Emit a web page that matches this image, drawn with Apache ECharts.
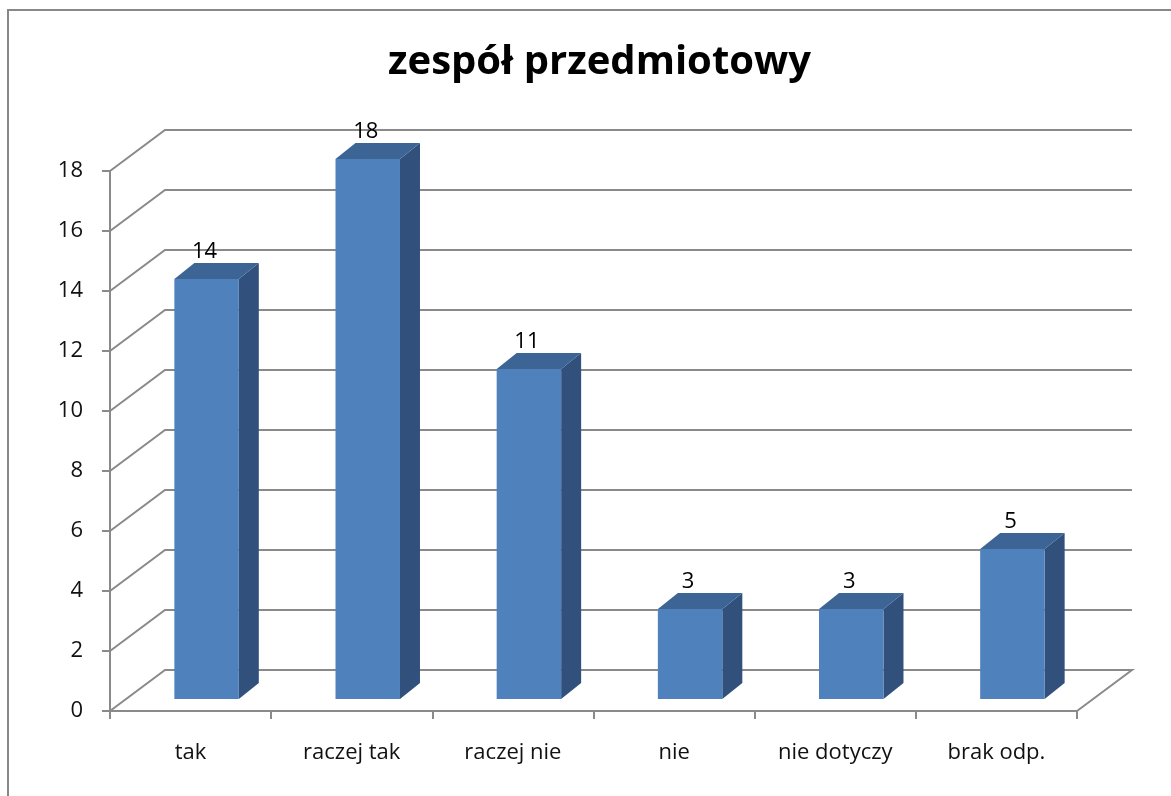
<!DOCTYPE html>
<html>
<head>
<meta charset="utf-8">
<script src="https://cdn.jsdelivr.net/npm/echarts@6/dist/echarts.min.js"></script>
<style>
  html, body { margin: 0; padding: 0; background: #fff; }
  #chart { width: 1171px; height: 796px; }
</style>
</head>
<body>
<div id="chart"></div>
<script>
const categories = ["tak", "raczej tak", "raczej nie", "nie", "nie dotyczy", "brak odp."];
const values = [14, 18, 11, 3, 3, 5];
const yTicks = [0, 2, 4, 6, 8, 10, 12, 14, 16, 18];

// 3D look: back wall offset and bar placement in depth
const WALL_DX = 55, WALL_DY = -41;
const BAR_DX = 16, BAR_DY = -12;
const DEPTH_DX = 20, DEPTH_DY = -16;
const GRID_COLOR = "#8a8a8a";
const FONT = "'Open Sans', sans-serif";

const chart = echarts.init(document.getElementById("chart"), null, { renderer: "canvas" });

function renderWall(params, api) {
  const v = api.value(1);
  const half = api.size([1, 0])[0] / 2;
  const fl = api.coord([0, v]);
  const fr = api.coord([categories.length - 1, v]);
  const x0 = fl[0] - half, x1 = fr[0] + half, y = fl[1];
  const pts = [[x0, y], [x0 + WALL_DX, y + WALL_DY], [x1 + WALL_DX, y + WALL_DY]];
  if (v === 0) pts.push([x1, y]);
  return {
    type: "polyline",
    shape: { points: pts },
    style: { stroke: GRID_COLOR, lineWidth: 2, fill: null }
  };
}

function renderBar(params, api) {
  const i = api.value(0);
  const v = api.value(1);
  const base = api.coord([i, 0]);
  const top = api.coord([i, v]);
  const bw = api.size([1, 0])[0] * 0.4;
  const cx = base[0] + BAR_DX;
  const x0 = cx - bw / 2, x1 = cx + bw / 2;
  const yb = base[1] + BAR_DY, yt = top[1] + BAR_DY;
  return {
    type: "group",
    children: [
      {
        type: "polygon",
        shape: { points: [[x1, yt], [x1 + DEPTH_DX, yt + DEPTH_DY], [x1 + DEPTH_DX, yb + DEPTH_DY], [x1, yb]] },
        style: { fill: "#31507b" }
      },
      {
        type: "polygon",
        shape: { points: [[x0, yt], [x0 + DEPTH_DX, yt + DEPTH_DY], [x1 + DEPTH_DX, yt + DEPTH_DY], [x1, yt]] },
        style: { fill: "#3c6494" }
      },
      {
        type: "rect",
        shape: { x: x0, y: yt, width: bw, height: yb - yt },
        style: { fill: "#4f81bd" }
      },
      {
        type: "text",
        x: cx - 2, y: yt + DEPTH_DY,
        style: {
          text: String(v), align: "center", verticalAlign: "bottom",
          fontSize: 22, fontFamily: FONT, fill: "#000"
        }
      }
    ]
  };
}

const option = {
  animation: false,
  backgroundColor: "#fff",
  title: {
    text: "zespół przedmiotowy",
    left: 383,
    top: 38,
    textStyle: { fontSize: 40, fontWeight: "bold", fontFamily: FONT, color: "#000" }
  },
  graphic: [{
    type: "rect",
    shape: { x: 8, y: 10, width: 1300, height: 900 },
    style: { fill: null, stroke: "#888", lineWidth: 2 },
    z: 100
  }],
  grid: { left: 110, top: 171, width: 967, height: 540 },
  xAxis: {
    type: "category",
    data: categories,
    boundaryGap: true,
    axisLine: { lineStyle: { color: GRID_COLOR, width: 2 } },
    axisTick: { show: true, length: 8, lineStyle: { color: GRID_COLOR, width: 2 } },
    axisLabel: { margin: 31, fontSize: 22, fontFamily: FONT, color: "#111" },
    splitLine: { show: false }
  },
  yAxis: {
    type: "value",
    min: 0, max: 18, interval: 2,
    axisLine: { show: true, lineStyle: { color: GRID_COLOR, width: 2 } },
    axisTick: { show: true, length: 8, lineStyle: { color: GRID_COLOR, width: 2 } },
    axisLabel: { margin: 27, fontSize: 22, fontFamily: FONT, color: "#111" },
    splitLine: { show: false }
  },
  series: [
    {
      type: "custom",
      name: "walls",
      renderItem: renderWall,
      data: yTicks.map(v => [0, v]),
      encode: { x: 0, y: 1 },
      z: 1,
      silent: true
    },
    {
      type: "custom",
      name: "bars",
      renderItem: renderBar,
      data: values.map((v, i) => [i, v]),
      encode: { x: 0, y: 1 },
      z: 2
    }
  ]
};

chart.setOption(option);
</script>
</body>
</html>
